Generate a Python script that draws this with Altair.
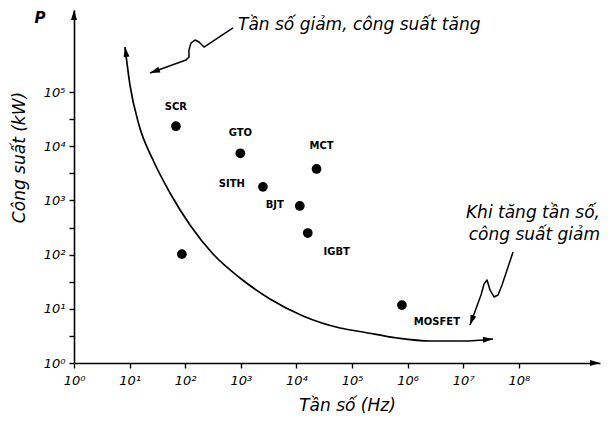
import json
import altair as alt
import pandas as pd

# ---------------- data ----------------
devices = ["SCR", "GTO", "MCT", "SITH", "BJT", "IGBT", "", "MOSFET"]
freq_hz = [68, 980, 23000, 2500, 11500, 16000, 87, 790000]
power_kw = [23400, 7400, 3800, 1780, 790, 250, 102, 11.7]

# trend curve (log10 of frequency / power)
curve_logf = [0.917, 1.007, 1.169, 1.421, 1.727, 2.086, 2.500, 2.986, 3.525, 4.119, 4.784, 5.198, 5.809, 6.403, 6.996, 7.536]
curve_logp = [5.830, 5.129, 4.391, 3.745, 3.137, 2.546, 2.011, 1.568, 1.181, 0.867, 0.646, 0.572, 0.461, 0.406, 0.406, 0.443]

# squiggly annotation arrows (log10 coords)
sq1_logf = [2.860, 2.338, 2.248, 2.176, 2.104, 2.068, 2.068, 2.014, 1.367]
sq1_logp = [6.181, 5.830, 5.923, 5.959, 5.904, 5.775, 5.646, 5.590, 5.351]
sq2_logf = [7.896, 7.698, 7.626, 7.554, 7.482, 7.428, 7.374, 7.320, 7.122]
sq2_logp = [2.048, 1.439, 1.255, 1.218, 1.347, 1.531, 1.458, 1.255, 0.701]

x_tick_exp = [0, 1, 2, 3, 4, 5, 6, 7, 8]
x_tick_labels = ["10⁰", "10¹", "10²", "10³", "10⁴", "10⁵", "10⁶", "10⁷", "10⁸"]
y_tick_exp = [0, 0.5, 1, 1.5, 2, 2.5, 3, 3.5, 4, 4.5, 5]
y_tick_labels = ["10⁰", "", "10¹", "", "10²", "", "10³", "", "10⁴", "", "10⁵"]

top_note = "Tần số giảm, công suất tăng"
right_note = ["Khi tăng tần số,", "công suất giảm"]
x_title = "Tần số (Hz)"
y_title = "Công suất (kW)"

# ---------------- styles ----------------
FONT = "DejaVu Sans"
XMAX = 10 ** 9.46
YMAX = 10 ** 6.513
label_offsets = {
    "SCR": (0, -19), "GTO": (0, -20), "MCT": (5, -23), "SITH": (-31, -3),
    "BJT": (-25, -1), "IGBT": (29, 19), "MOSFET": (35, 17),
}

xs = alt.Scale(type="log", domain=[1, XMAX], nice=False)
ys = alt.Scale(type="log", domain=[1, YMAX], nice=False)

x_idx = "round(log(datum.value)/LN10)"
x_axis = alt.Axis(
    values=[10 ** e for e in x_tick_exp],
    labelExpr=json.dumps(x_tick_labels, ensure_ascii=False) + "[" + x_idx + "]",
    title=x_title, grid=False,
    domainColor="black", domainWidth=1.6, tickColor="black", tickSize=5, tickWidth=1.4,
    labelFont=FONT, labelFontSize=13, labelFontStyle="italic", labelColor="black",
    labelPadding=6, labelFlush=False, labelOverlap=False,
    titleFont=FONT, titleFontSize=17, titleFontStyle="italic", titleFontWeight="normal",
    titleColor="black", titleX=273, titleY=34, titleAlign="center",
)
y_idx = "round(2*log(datum.value)/LN10)"
y_axis = alt.Axis(
    values=[10 ** e for e in y_tick_exp],
    labelExpr=json.dumps(y_tick_labels, ensure_ascii=False) + "[" + y_idx + "]",
    title=y_title, grid=False,
    domainColor="black", domainWidth=1.6, tickColor="black", tickSize=5, tickWidth=1.4,
    labelFont=FONT, labelFontSize=13, labelFontStyle="italic", labelColor="black",
    labelPadding=4, labelFlush=False, labelOverlap=False,
    titleFont=FONT, titleFontSize=17, titleFontStyle="italic", titleFontWeight="normal",
    titleColor="black", titleX=-55, titleY=147, titleAlign="center", titleAngle=270,
    titleBaseline="middle",
)
X = alt.X("f:Q", scale=xs, axis=x_axis)
Y = alt.Y("p:Q", scale=ys, axis=y_axis)

pts = pd.DataFrame({"name": devices, "f": freq_hz, "p": power_kw})

base = alt.Chart(pts).mark_circle(size=95, color="black", opacity=1).encode(x=X, y=Y)

label_layers = []
for nm, (dx, dy) in label_offsets.items():
    label_layers.append(
        alt.Chart(pts).transform_filter(alt.datum.name == nm)
        .mark_text(font=FONT, fontSize=10, fontWeight="bold", color="black", dx=dx, dy=dy)
        .encode(x=X, y=Y, text="name:N")
    )

rows = []
for k, (lf, lp) in enumerate(zip(curve_logf, curve_logp)):
    rows.append({"g": "curve", "i": k, "f": 10 ** lf, "p": 10 ** lp})
for k, (lf, lp) in enumerate(zip(sq1_logf, sq1_logp)):
    rows.append({"g": "sq1", "i": k, "f": 10 ** lf, "p": 10 ** lp})
for k, (lf, lp) in enumerate(zip(sq2_logf, sq2_logp)):
    rows.append({"g": "sq2", "i": k, "f": 10 ** lf, "p": 10 ** lp})
lines_df = pd.DataFrame(rows)

curve = alt.Chart(lines_df).transform_filter(alt.datum.g == "curve").mark_line(
    color="black", strokeWidth=1.7, interpolate="monotone"
).encode(x=X, y=Y, order="i:Q")
squig = alt.Chart(lines_df).transform_filter(alt.datum.g != "curve").mark_line(
    color="black", strokeWidth=1.5, interpolate="linear", strokeJoin="round"
).encode(x=X, y=Y, detail="g:N", order="i:Q")

heads = pd.DataFrame({
    "f": [10 ** curve_logf[0], 10 ** curve_logf[-1], 10 ** sq1_logf[-1], 10 ** sq2_logf[-1], XMAX, 1],
    "p": [10 ** curve_logp[0], 10 ** curve_logp[-1], 10 ** sq1_logp[-1], 10 ** sq2_logp[-1], 1, YMAX],
    "ang": [351, 86, 250, 200, 90, 0],
})
arrowheads = alt.Chart(heads).mark_point(
    shape="M-1.2,4L0,0L1.2,4Z", size=25, filled=True, color="black", opacity=1,
    strokeWidth=1,
).encode(x=X, y=Y, angle=alt.Angle("ang:Q", scale=None))

notes = pd.DataFrame({
    "t": [top_note, right_note[0], right_note[1], "P"],
    "f": [10 ** 2.95, XMAX, XMAX, 10 ** -0.61],
    "p": [10 ** 6.24, 10 ** 2.77, 10 ** 2.36, 10 ** 6.37],
    "al": ["left", "right", "right", "center"],
})
note_left = alt.Chart(notes).transform_filter(alt.datum.al == "left").mark_text(
    font=FONT, fontSize=17, fontStyle="italic", color="black", align="left", baseline="middle"
).encode(x=X, y=Y, text="t:N")
note_right = alt.Chart(notes).transform_filter(alt.datum.al == "right").mark_text(
    font=FONT, fontSize=17, fontStyle="italic", color="black", align="right", baseline="middle"
).encode(x=X, y=Y, text="t:N")
note_p = alt.Chart(notes).transform_filter(alt.datum.al == "center").mark_text(
    font=FONT, fontSize=15, fontStyle="italic", fontWeight="bold", color="black",
    align="center", baseline="middle"
).encode(x=X, y=Y, text="t:N")

chart = alt.layer(
    base, *label_layers, curve, squig, arrowheads, note_left, note_right, note_p
).properties(
    width=526, height=353,
    autosize=alt.AutoSizeParams(type="none"),
    padding={"left": 66, "top": 2, "right": 2, "bottom": 52},
    background="white",
).configure_view(stroke=None)

chart.save("out.html", embed_options={"renderer": "svg", "actions": False})
